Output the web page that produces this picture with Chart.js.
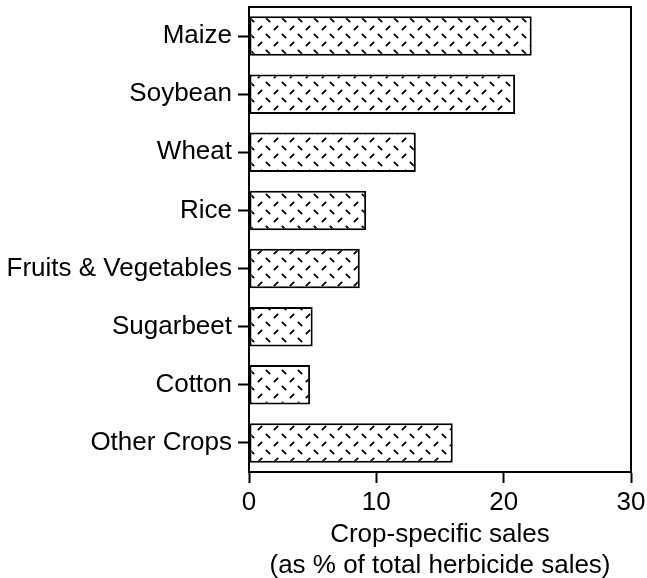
<!DOCTYPE html>
<html>
<head>
<meta charset="utf-8">
<script src="https://cdn.jsdelivr.net/npm/chart.js@4"></script>
<style>
  html, body { margin: 0; padding: 0; background: #fff; }
  canvas { display: block; }
</style>
</head>
<body>
<canvas id="c" width="647" height="578"></canvas>
<script>
const categories = ['Maize', 'Soybean', 'Wheat', 'Rice', 'Fruits & Vegetables', 'Sugarbeet', 'Cotton', 'Other Crops'];
const salesShare = [22.2, 20.9, 13.1, 9.2, 8.7, 5.0, 4.8, 16.0];
const xTicks = [0, 10, 20, 30];
const xTitle = ['Crop-specific sales', '(as % of total herbicide sales)'];

const FONT = '"Liberation Sans", Arial, Helvetica, sans-serif';

function makePattern() {
  const t = document.createElement('canvas');
  t.width = 16; t.height = 16;
  const g = t.getContext('2d');
  g.fillStyle = '#fff';
  g.fillRect(0, 0, 16, 16);
  g.strokeStyle = '#000';
  g.lineWidth = 1.8;
  g.lineCap = 'butt';
  function dash(cx, cy, dir) {
    g.beginPath();
    g.moveTo(cx - 2.2, cy - 2.2 * dir);
    g.lineTo(cx + 2.2, cy + 2.2 * dir);
    g.stroke();
  }
  dash(12, 4, 1);   // "\"
  dash(4, 12, -1);  // "/"
  return g.createPattern(t, 'repeat');
}

const frame = {
  id: 'frame',
  afterDraw(chart) {
    const { ctx, chartArea: a } = chart;
    ctx.save();
    ctx.strokeStyle = '#000';
    ctx.lineWidth = 2;
    ctx.beginPath();
    ctx.moveTo(a.left, a.top);
    ctx.lineTo(a.right, a.top);
    ctx.lineTo(a.right, a.bottom);
    ctx.stroke();
    ctx.restore();
  }
};

new Chart(document.getElementById('c'), {
  type: 'bar',
  data: {
    labels: categories,
    datasets: [{
      data: salesShare,
      backgroundColor: makePattern(),
      borderColor: '#000',
      borderWidth: 2,
      borderSkipped: false,
      categoryPercentage: 1,
      barPercentage: 0.68
    }]
  },
  options: {
    indexAxis: 'y',
    responsive: false,
    animation: false,
    devicePixelRatio: 1,
    layout: { padding: { top: 7, right: 16, bottom: 0, left: 0 } },
    plugins: { legend: { display: false }, tooltip: { enabled: false } },
    scales: {
      x: {
        type: 'linear',
        min: 0,
        max: 30,
        afterBuildTicks(scale) { scale.ticks = xTicks.map(v => ({ value: v })); },
        ticks: {
          color: '#000',
          padding: 4,
          font: { family: FONT, size: 26 }
        },
        grid: {
          drawOnChartArea: false,
          drawTicks: true,
          tickLength: 11,
          tickColor: '#000',
          tickWidth: 2
        },
        border: { display: true, color: '#000', width: 2 },
        title: {
          display: true,
          text: xTitle,
          color: '#000',
          padding: { top: 0, bottom: -3.5 },
          font: { family: FONT, size: 26, lineHeight: 1.19 }
        },
        afterFit(scale) {
          scale.height = 106;
          scale.paddingLeft = 0; scale.paddingRight = 0;
        }
      },
      y: {
        type: 'category',
        offset: true,
        ticks: {
          color: '#000',
          padding: 6,
          font: { family: FONT, size: 26 }
        },
        grid: {
          drawOnChartArea: false,
          drawTicks: true,
          tickLength: 11,
          tickColor: '#000',
          tickWidth: 2,
          offset: false
        },
        border: { display: true, color: '#000', width: 2 },
        afterFit(scale) {
          scale.width = 249;
          scale.paddingTop = 0; scale.paddingBottom = 0;
        }
      }
    }
  },
  plugins: [frame]
});
</script>
</body>
</html>
